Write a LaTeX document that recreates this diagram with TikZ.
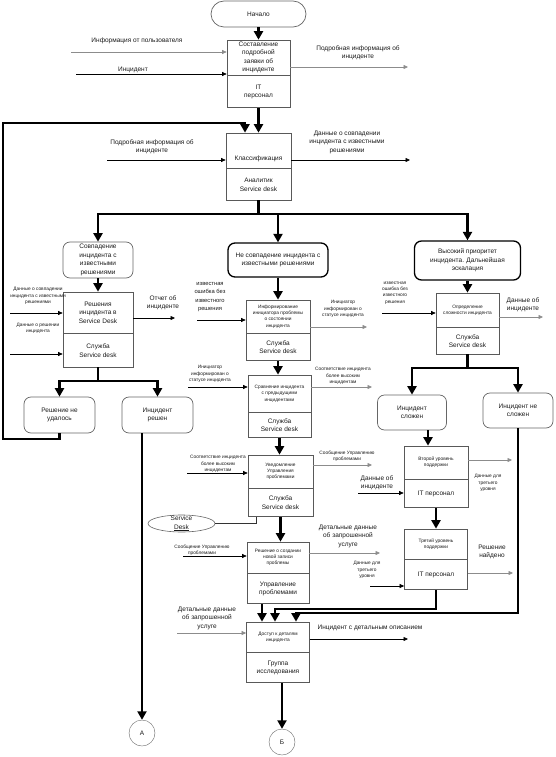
\documentclass[tikz,border=0pt]{standalone}
\usepackage{fontspec}
\setmainfont{Liberation Sans}
\usetikzlibrary{positioning,shapes.geometric,arrows.meta}

\begin{document}
\begin{tikzpicture}[x=1pt,y=-1pt,
            every node/.style={font=\fontsize{6.5}{8.5}\selectfont,text=black!90,align=center,inner sep=1pt},
            sm/.style={font=\fontsize{4.8}{6.3}\selectfont},
            md/.style={font=\fontsize{5.8}{8.5}\selectfont},
            fn/.style={draw=black!65,line width=0.7pt,minimum width=63pt},
            st/.style={draw=black!60,line width=0.7pt,rounded corners=7pt},
            hb/.style={st,draw=black,line width=1.3pt},
            fl/.style={draw=black,line width=2.2pt,-{Triangle[length=8.5pt,width=9pt]}},
            tl/.style={draw=black,line width=2.2pt,line cap=rect},
            ar/.style={draw=black,line width=0.6pt,-{Triangle[length=4.5pt,width=4pt]}},
            gr/.style={ar,draw=black!45}]
            \useasboundingbox (0,0) rectangle (556,757);

            % blocks
            \node[st,minimum width=95pt,minimum height=26pt,rounded corners=13pt](start) at (258.5,14) {Начало};
            \node[fn,minimum height=35pt](b1) at (258.5,57.5) {Составление\\подробной\\заявки об\\инциденте};
            \node[fn,minimum height=32pt,below=0pt of b1](b1s) {IT\\персонал};
            \node[fn,minimum width=65pt,minimum height=35pt](b2) at (258.5,150.5) {\mbox{}\\[13pt]Классификация};
            \node[fn,minimum width=65pt,minimum height=32pt,below=0pt of b2](b2s) {Аналитик\\Service desk};

            \node[st,minimum width=70pt,minimum height=36pt](match) at (98,260) {Совпадение\\инцидента с\\известными\\решениями};
            \node[hb,minimum width=100pt,minimum height=34pt](nomatch) at (278,260) {Не совпадение инцидента с\\известными решениями};
            \node[hb,minimum width=106pt,minimum height=39pt](high) at (467.5,260.5) {Высокий приоритет\\инцидента. Дальнейшая\\эскалация};

            \node[fn,minimum width=70pt,minimum height=41pt](b3) at (98,312.5) {Решения\\инцидента в\\Service Desk};
            \node[fn,minimum width=70pt,minimum height=34pt,below=0pt of b3](b3s) {Служба\\Service desk};
            \node[st,minimum width=71pt,minimum height=36pt](fail) at (59.5,415) {Решение не\\удалось};
            \node[st,minimum width=71pt,minimum height=36pt](solved) at (157.5,415) {Инцидент\\решен};

            \node[fn,minimum width=64pt,minimum height=33pt,sm](b4) at (278,316.5) {Информирование\\инициатора проблемы\\о состоянии\\инцидента};
            \node[fn,minimum width=64pt,minimum height=27pt,below=0pt of b4](b4s) {Служба\\Service desk};
            \node[fn,minimum height=37pt,sm](b5) at (279.5,393.5) {Сравнение инцидента\\с предыдущими\\инцидентами};
            \node[fn,minimum height=25pt,below=0pt of b5](b5s) {Служба\\Service desk};
            \node[fn,minimum width=65pt,minimum height=33pt,sm](b6) at (280.5,471.5) {Уведомление\\Управления\\проблемами};
            \node[fn,minimum width=65pt,minimum height=28pt,below=0pt of b6](b6s) {Служба\\Service desk};
            \node[fn,minimum width=62pt,minimum height=31pt,sm](b7) at (278,557.5) {Решение о создании\\новой записи\\проблемы};
            \node[fn,minimum width=62pt,minimum height=30pt,below=0pt of b7](b7s) {Управление\\проблемами};
            \node[fn,minimum height=30pt,sm](b8) at (278,637) {Доступ к деталям\\инцидента};
            \node[fn,minimum height=30pt,below=0pt of b8](b8s) {Группа\\исследования};

            \node[fn,minimum height=34pt,sm](b9) at (467.5,310) {Определение\\сложности инцидента};
            \node[fn,minimum height=27pt,below=0pt of b9](b9s) {Служба\\Service desk};
            \node[st,minimum width=69pt,minimum height=35pt](complex) at (412,412.5) {Инцидент\\сложен};
            \node[st,minimum width=70pt,minimum height=35pt](simple) at (518,410.5) {Инцидент не\\сложен};
            \node[fn,minimum width=64pt,minimum height=33pt,sm](b10) at (436,462.5) {Второй уровень\\поддержки};
            \node[fn,minimum width=64pt,minimum height=28pt,below=0pt of b10](b10s) {IT персонал};
            \node[fn,minimum height=30pt,sm](b11) at (436,544) {Третий уровень\\поддержки};
            \node[fn,minimum height=30pt,below=0pt of b11](b11s) {IT персонал};

            \node[draw=black!60,circle,minimum size=26pt](ca) at (142,733) {А};
            \node[draw=black!60,circle,minimum size=26pt](cb) at (282,742) {Б};
            \node[draw=black!60,line width=0.6pt,ellipse,minimum width=67pt,minimum height=17pt](sd) at (181.5,523.5) {};
            \node(sdt) at (sd) {Service\\\underline{Desk}};

            % labels
            \node(t1) at (137,41) {Информация от пользователя};
            \node(t2) at (133,70) {Инцидент};
            \node(t3) at (358,53) {Подробная информация об\\инциденте};
            \node(t4) at (152,147) {Подробная информация об\\инциденте};
            \node(t5) at (347,142) {Данные о совпадении\\инцидента с известными\\решениями};
            \node[sm](t6) at (38,296) {Данные о совпадении\\инцидента с известными\\решениями};
            \node[sm](t7) at (38,328) {Данные о решении\\инцидента};
            \node(t8) at (163,303) {Отчет об\\инциденте};
            \node[md](t9) at (210,297) {известная\\ошибка без\\известного\\решения};
            \node[sm](t10) at (343,309) {Инициатор\\информирован о\\статусе инцидента};
            \node[sm](t11) at (210,374) {Инициатор\\информирован о\\статусе инцидента};
            \node[sm](t12) at (343,376) {Соответствие инцидента\\более высоким\\инцидентам};
            \node[sm](t13) at (218,464) {Соответствие инцидента\\более высоким\\инцидентам};
            \node[sm](t14) at (347,456) {Сообщение Управлению\\проблемами};
            \node[sm](t15) at (202,550) {Сообщение Управлению\\проблемами};
            \node(t16) at (348,536) {Детальные данные\\об запрошенной\\услуге};
            \node(t17) at (207,618) {Детальные данные\\об запрошенной\\услуге};
            \node(t18) at (370,628) {Инцидент с детальным описанием};
            \node[sm](t19) at (395,293) {известная\\ошибка без\\известного\\решения};
            \node(t20) at (523,305) {Данные об\\инциденте};
            \node(t21) at (377,483) {Данные об\\инциденте};
            \node[sm](t22) at (488,483) {Данные для\\третьего\\уровня};
            \node[sm](t23) at (367,570) {Данные для\\третьего\\уровня};
            \node(t24) at (492,552) {Решение\\найдено};

            % top
            \draw[fl] (start) -- (b1);
            \coordinate(i1) at (71,52);
            \draw[gr] (i1) -- (i1 -| b1.west);
            \coordinate(i2) at (76,74);
            \draw[ar] (i2) -- (i2 -| b1.west);
            \coordinate(o1) at (408,67);
            \draw[gr] (o1 -| b1.east) -- (o1);
            \draw[fl] (b1s) -- (b2);
            \coordinate(l1) at (3,439);
            \coordinate(l2) at (3,123);
            \draw[fl] (fail.south) |- (l1) -- (l2) -| ([xshift=-13.5pt]b2.north);
            \coordinate(i3) at (107,160);
            \draw[ar] (i3) -- (i3 -| b2.west);
            \coordinate(o2) at (410,160);
            \draw[ar] (o2 -| b2.east) -- (o2);
            \draw[tl] (b2s.south) -- ++(0,13) coordinate(j2);
            \draw[fl] (j2) -| (match.north);
            \draw[fl] (j2) -| (nomatch.north);
            \draw[fl] (j2) -| (high.north);

            % left
            \draw[fl] (match) -- (b3);
            \coordinate(i4) at (10,313);
            \draw[ar] (i4) -- (i4 -| b3.west);
            \coordinate(i5) at (10,354);
            \draw[ar] (i5) -- (i5 -| b3s.west);
            \coordinate(o3) at (175,318);
            \draw[ar] (o3 -| b3.east) -- (o3);
            \draw[tl] (b3s.south) -- ++(0,13) coordinate(j3);
            \draw[fl] (j3) -| (fail.north);
            \draw[fl] (j3) -| (solved.north);
            \draw[fl] (ca |- solved.south) -- (ca);

            % middle
            \draw[fl] (nomatch) -- (b4);
            \coordinate(i6) at (197,320);
            \draw[ar] (i6) -- (i6 -| b4.west);
            \coordinate(o4) at (367,327);
            \draw[gr] (o4 -| b4.east) -- (o4);
            \draw[fl] (b4s.south) -- (b4s.south |- b5.north);
            \coordinate(i7) at (188,387);
            \draw[ar] (i7) -- (i7 -| b5.west);
            \coordinate(o5) at (372,387);
            \draw[gr] (o5 -| b5.east) -- (o5);
            \draw[fl] (b5s.south) -- (b5s.south |- b6.north);
            \coordinate(i8) at (187,473);
            \draw[ar] (i8) -- (i8 -| b6.west);
            \coordinate(o6) at (372,465);
            \draw[gr] (o6 -| b6.east) -- (o6);
            \coordinate(sdc) at (256,523.5);
            \draw[black!80,line width=0.6pt] (sd) -- (sdc) -- (sdc |- b6s.south);
            \draw[fl] (b6s.south) -- (b6s.south |- b7.north);
            \coordinate(i9) at (183,556);
            \draw[ar] (i9) -- (i9 -| b7.west);
            \coordinate(o7) at (380,553);
            \draw[gr] (o7 -| b7.east) -- (o7);
            \draw[fl] ([xshift=-16pt]b7s.south) -- ([xshift=-16pt]b8.north);
            \coordinate(i10) at (177,633);
            \draw[gr] (i10) -- (i10 -| b8.west);
            \coordinate(o8) at (408,639);
            \draw[ar] (o8 -| b8.east) -- (o8);
            \draw[fl] (cb |- b8s.south) -- (cb);

            % right
            \draw[fl] (high) -- (b9);
            \coordinate(i11) at (382,313);
            \draw[ar] (i11) -- (i11 -| b9.west);
            \coordinate(o9) at (543,317);
            \draw[gr] (o9 -| b9.east) -- (o9);
            \draw[tl] (b9s.south) -- ++(0,13) coordinate(j9);
            \draw[fl] (j9) -| (complex.north);
            \draw[fl] (j9) -| (simple.north);
            \draw[fl] ([xshift=16pt]complex.south) -- ([xshift=-8pt]b10.north);
            \coordinate(i12) at (358,493);
            \draw[ar] (i12) -- (i12 -| b10s.west);
            \coordinate(o10) at (512,460);
            \draw[gr] (o10 -| b10.east) -- (o10);
            \draw[fl] (b10s) -- (b11);
            \coordinate(i13) at (370,586);
            \draw[ar] (i13) -- (i13 -| b11s.west);
            \coordinate(o11) at (513,573);
            \draw[gr] (o11 -| b11s.east) -- (o11);
            \draw[fl] (b11s.south) -- ++(0,19) -| ([xshift=-3pt]b8.north);
            \draw[fl] (simple.south) -- ++(0,185) -| ([xshift=18pt]b8.north);
        \end{tikzpicture}
\end{document}
